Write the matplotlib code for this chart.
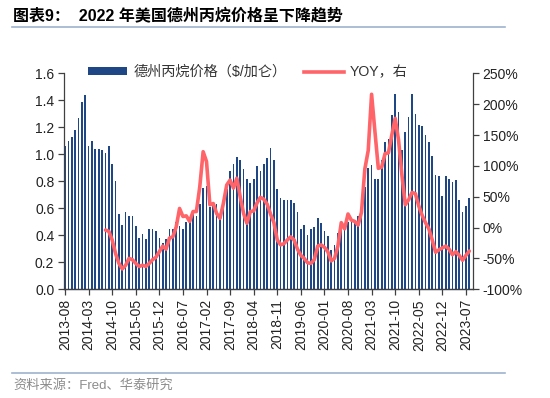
import numpy as np
import pandas as pd
import matplotlib
matplotlib.use('Agg')
import matplotlib.pyplot as plt
from matplotlib.lines import Line2D
from matplotlib.patches import Patch

plt.rcParams['font.family'] = ['Liberation Sans', 'Noto Sans CJK SC']
plt.rcParams['axes.unicode_minus'] = False

### data (monthly, 2013-08 .. 2023-08)
months = pd.date_range('2013-08-01', periods=121, freq='MS')
month_labels = [d.strftime('%Y-%m') for d in months]

price = [1.06, 1.10, 1.13, 1.18, 1.27, 1.39, 1.44, 1.06, 1.10, 1.04,
         1.04, 1.03, 1.01, 1.06, 0.93, 0.80, 0.556, 0.476, 0.57, 0.54,
         0.545, 0.466, 0.38, 0.41, 0.37, 0.45, 0.45, 0.43, 0.38, 0.34,
         0.37, 0.45, 0.45, 0.50, 0.47, 0.45, 0.50, 0.51, 0.57, 0.54,
         0.63, 0.75, 0.765, 0.61, 0.64, 0.63, 0.54, 0.65, 0.74, 0.88,
         0.93, 0.98, 0.96, 0.89, 0.82, 0.785, 0.82, 0.91, 0.88, 0.93,
         0.97, 1.05, 0.96, 0.745, 0.68, 0.66, 0.665, 0.665, 0.64, 0.575,
         0.445, 0.48, 0.405, 0.445, 0.46, 0.53, 0.49, 0.43, 0.395, 0.29,
         0.326, 0.415, 0.47, 0.46, 0.50, 0.50, 0.50, 0.54, 0.59, 0.76,
         0.90, 0.92, 0.82, 0.82, 0.96, 1.09, 1.11, 1.29, 1.45, 1.31,
         1.03, 1.165, 1.28, 1.45, 1.30, 1.22, 1.21, 1.14, 1.09, 0.99,
         0.85, 0.84, 0.69, 0.84, 0.82, 0.795, 0.81, 0.66, 0.57, 0.62,
         0.68]

# YOY (%) starts 2014-08
yoy_start = 12
yoy = [-4, -6, -20, -42, -58, -67, -61, -50, -52, -58,
       -63, -61, -63, -58, -52, -48, -39, -30, -35, -17,
       -15, 1, 31, 18, 19, 10, 26, 26, 66, 123,
       107, 37, 39, 23, 15, 39, 69, 77, 64, 80,
       50, 23, 7, 26, 27, 40, 49, 46, 38, 22,
       8, -20, -28, -26, -20, -15, -20, -35, -45, -50,
       -57, -58, -52, -30, -28, -32, -39, -54, -50, -30,
       8, -2, 22, 12, 10, 4, 25, 95, 125, 216,
       155, 96, 98, 120, 121, 150, 177, 142, 85, 37,
       45, 57, 55, 35, 20, 8, -2, -20, -40, -36,
       -33, -30, -35, -44, -39, -45, -53, -45, -38]

bar_color = '#1F4786'
line_color = '#FF6469'
axis_color = '#404040'

#%% figure
fig = plt.figure(figsize=(5.5, 3.98), dpi=100)
ax = fig.add_axes([64/550, 1-289.3/398, 409/550, 216/398])
ax2 = ax.twinx()

x = np.arange(len(price))
ax.bar(x, price, width=0.5, color=bar_color, linewidth=0)
ax.set_ylim(0, 1.6)
ax.set_yticks(np.arange(0, 1.61, 0.2))
ax.set_yticklabels(['%.1f' % v for v in np.arange(0, 1.61, 0.2)])
ax.set_xlim(-0.3, 121.1)
ax.set_xticks(x[::7])
ax.set_xticklabels(month_labels[::7], rotation=90)

xl = np.arange(yoy_start, yoy_start + len(yoy))
ax2.plot(xl, yoy, color=line_color, lw=2.6, solid_joinstyle='round',
         solid_capstyle='round')
ax2.set_ylim(-100, 250)
ax2.set_yticks(np.arange(-100, 251, 50))
ax2.set_yticklabels(['%d%%' % v for v in np.arange(-100, 251, 50)])

for a in (ax, ax2):
    a.spines['top'].set_visible(False)
    for s in ('left', 'right', 'bottom'):
        a.spines[s].set_color(axis_color)
        a.spines[s].set_linewidth(0.9)
    a.tick_params(direction='out', length=4, width=0.9, color=axis_color,
                  labelsize=10, labelcolor='#222222', pad=3)
ax.spines['right'].set_visible(False)
ax2.spines['left'].set_visible(False)

### legend
handles = [Patch(facecolor=bar_color, edgecolor='none'),
           Line2D([0], [0], color=line_color, lw=2.6)]
fig.legend(handles, ['德州丙烷价格（$/加仑）', 'YOY，右'],
           loc='center left', bbox_to_anchor=(75/550, 1-72/398), ncol=2,
           frameon=False, fontsize=10.2, handlelength=2.8, handleheight=0.45,
           handletextpad=0.45, columnspacing=1.2, labelcolor='#333333')

### title, rules and source
fig.text(13/550, 1-16/398, '图表9：  2022 年美国德州丙烷价格呈下降趋势',
         fontsize=11.5, fontweight='bold', va='center', ha='left',
         family=['Liberation Sans', 'Noto Sans CJK SC'])
fig.add_artist(Line2D([12/550, 505/550], [1-27/398, 1-27/398],
                      color='#9DB3CF', lw=1.2))
fig.add_artist(Line2D([12/550, 505/550], [1-373/398, 1-373/398],
                      color='#9DB3CF', lw=1.2))
fig.text(13/550, 1-385/398, '资料来源：Fred、华泰研究', fontsize=9.5,
         color='#8C8C8C', va='center', ha='left')

fig.savefig('out.png', dpi=100)
